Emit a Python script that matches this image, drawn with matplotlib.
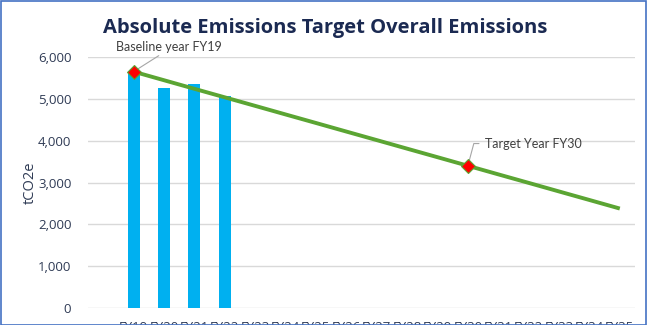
import matplotlib
matplotlib.use("Agg")
import matplotlib.pyplot as plt
from matplotlib.patches import Rectangle

categories = ["", "FY19", "FY20", "FY21", "FY22", "FY23", "FY24", "FY25", "FY26", "FY27",
              "FY28", "FY29", "FY30", "FY31", "FY32", "FY33", "FY34", "FY35"]
actual = [None, 5660, 5250, 5350, 5060] + [None] * 13
target = [None, 5650, 5445, 5240, 5036, 4832, 4627, 4423, 4218, 4014,
          3809, 3605, 3400, 3195, 2991, 2786, 2582, 2377]
ytick_vals = [0, 1000, 2000, 3000, 4000, 5000, 6000]
ytick_labels = ["0", "1,000", "2,000", "3,000", "4,000", "5,000", "6,000"]

W, H = 649, 325
fig = plt.figure(figsize=(W / 100, H / 100), dpi=100)
ax = fig.add_axes([88 / W, 1 - 308 / H, (635 - 88) / W, (308 - 57) / H])

x = list(range(len(categories)))
bx = [i for i, v in zip(x, actual) if v is not None]
bv = [v for v in actual if v is not None]
ax.bar(bx, bv, width=0.4, color="#00B0F0", zorder=2)

lx = [i for i, v in zip(x, target) if v is not None]
lv = [v for v in target if v is not None]
ax.plot(lx, lv, color="#5BA533", lw=2.8, zorder=3, solid_capstyle="butt")

i19 = categories.index("FY19")
i30 = categories.index("FY30")
for i in (i19, i30):
    ax.plot([i], [target[i]], marker="D", ms=7, mfc="#FF0000", mec="#5BA533", mew=0.8, zorder=4)

ax.set_xlim(-0.5, len(categories) - 0.5)
ax.set_ylim(0, 6000)
ax.set_yticks(ytick_vals)
ax.set_yticklabels(ytick_labels, fontsize=9.5, color="#2F3B55", family="Open Sans")
ax.set_xticks(x)
ax.set_xticklabels(categories, fontsize=9.5, color="#2F3B55", family="Open Sans")
ax.tick_params(axis="both", length=0)
ax.tick_params(axis="y", pad=12)
ax.tick_params(axis="x", pad=9.3)
for s in ax.spines.values():
    s.set_visible(False)
ax.grid(axis="y", color="#D9D9D9", lw=1, zorder=0)
ax.set_axisbelow(True)

ax.set_ylabel("tCO2e", fontsize=10.5, color="#2F3B55", family="Open Sans", va="center")
ax.yaxis.set_label_coords((30 - 88) / 547, 0.5)

ax.annotate("Baseline year FY19", xy=(i19, target[i19]), xytext=(-13, 13.5),
            textcoords="offset points", fontsize=9, family="Lato", color="#404040",
            ha="left", va="bottom",
            arrowprops=dict(arrowstyle="-", color="#A6A6A6", lw=0.8,
                            shrinkA=0, shrinkB=3, relpos=(0.45, 0)))
ax.annotate("Target Year FY30", xy=(i30, target[i30]), xytext=(12, 16),
            textcoords="offset points", fontsize=9, family="Lato", color="#404040",
            ha="left", va="center",
            arrowprops=dict(arrowstyle="-", color="#A6A6A6", lw=0.8,
                            shrinkA=2, shrinkB=3, relpos=(0, 0.5),
                            connectionstyle="angle,angleA=0,angleB=75,rad=0"))

fig.text(325 / W, 1 - 33 / H, "Absolute Emissions Target Overall Emissions",
         ha="center", va="baseline", fontsize=14.5, fontweight="bold",
         family="Open Sans", color="#1B2A52")

fig.patches.append(Rectangle((0.5 / W, 0.5 / H), (W - 4) / W, 1 - 1 / H,
                             transform=fig.transFigure, fill=False,
                             ec="#4472C4", lw=1.2))

fig.savefig("out.png", dpi=100)
